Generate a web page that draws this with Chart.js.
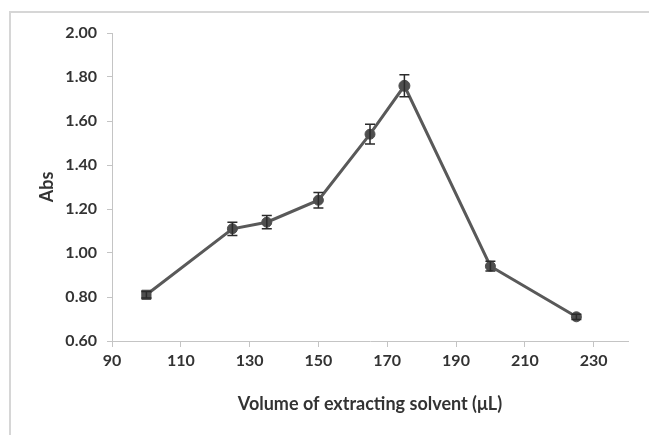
<!DOCTYPE html>
<html>
<head>
<meta charset="utf-8">
<script src="https://cdn.jsdelivr.net/npm/chart.js@4/dist/chart.umd.min.js"></script>
<style>
    html, body { margin: 0; padding: 0; background: #fff; }
    #wrap { position: relative; width: 649px; height: 435px; }
    #frame {
        position: absolute; left: 9px; top: 11px; right: -5px; bottom: -5px;
        border-top: 2px solid #d6d6d6; border-left: 2px solid #d6d6d6;
    }
    #myChart { position: absolute; left: 0; top: 0; }
</style>
</head>
<body>
<div id="wrap">
    <div id="frame"></div>
    <canvas id="myChart" width="649" height="435"></canvas>
</div>
<script>
// Data
const volumes = [100, 125, 135, 150, 165, 175, 200, 225];
const absValues = [0.81, 1.11, 1.14, 1.24, 1.54, 1.76, 0.94, 0.71];
const absErrors = [0.015, 0.03, 0.03, 0.035, 0.045, 0.05, 0.022, 0.012];
const markerStyles = ["rect", "circle", "circle", "circle", "circle", "circle", "circle", "circle"];
const markerSizes = [6.5, 5, 5, 5, 5, 5.5, 5, 5];

const xTicks = [90, 110, 130, 150, 170, 190, 210, 230];
const yTicks = [0.6, 0.8, 1.0, 1.2, 1.4, 1.6, 1.8, 2.0];

const tickFont = { family: "Lato", size: 16, weight: "bold" };
const titleFont = { family: "Lato", size: 18, weight: "bold" };
const textColor = "#333333";

// Draw error bars from the scales
const errorBars = {
    id: "errorBars",
    afterDatasetsDraw(chart) {
        const ctx = chart.ctx;
        const xs = chart.scales.x;
        const ys = chart.scales.y;
        ctx.save();
        ctx.strokeStyle = "#2b2b2b";
        ctx.lineWidth = 1.5;
        volumes.forEach((v, i) => {
            const x = xs.getPixelForValue(v);
            const top = ys.getPixelForValue(absValues[i] + absErrors[i]);
            const bot = ys.getPixelForValue(absValues[i] - absErrors[i]);
            ctx.beginPath();
            ctx.moveTo(x, top);
            ctx.lineTo(x, bot);
            ctx.moveTo(x - 5, top);
            ctx.lineTo(x + 5, top);
            ctx.moveTo(x - 5, bot);
            ctx.lineTo(x + 5, bot);
            ctx.stroke();
        });
        ctx.restore();
    }
};

const ctx = document.getElementById("myChart").getContext("2d");

const myChart = new Chart(ctx, {
    type: "line",
    data: {
        datasets: [
            {
                data: volumes.map((v, i) => ({ x: v, y: absValues[i] })),
                borderColor: "#595959",
                borderWidth: 3,
                backgroundColor: "#4f4f4f",
                pointBackgroundColor: "#4f4f4f",
                pointBorderColor: "#4f4f4f",
                pointStyle: markerStyles,
                pointRadius: markerSizes,
                pointBorderWidth: 1,
                tension: 0,
                fill: false
            }
        ]
    },
    options: {
        responsive: false,
        animation: false,
        events: [],
        layout: { padding: { top: 33, right: 21, left: 0, bottom: 0 } },
        plugins: {
            legend: { display: false },
            tooltip: { enabled: false }
        },
        scales: {
            x: {
                type: "linear",
                min: 90,
                max: 240,
                afterBuildTicks: scale => {
                    scale.ticks = xTicks.map(v => ({ value: v }));
                },
                afterFit: scale => { scale.height = 94; },
                border: { color: "#c4c4c4", width: 1 },
                grid: { drawOnChartArea: false, drawTicks: true, tickLength: 6, color: "#c4c4c4" },
                ticks: {
                    font: tickFont,
                    color: textColor,
                    padding: 4,
                    maxRotation: 0,
                    callback: v => String(v)
                },
                title: {
                    display: true,
                    text: "Volume of extracting solvent (\u03bcL)",
                    font: titleFont,
                    color: textColor,
                    padding: { top: 0, bottom: 20 }
                }
            },
            y: {
                type: "linear",
                min: 0.6,
                max: 2.0,
                afterBuildTicks: scale => {
                    scale.ticks = yTicks.map(v => ({ value: v }));
                },
                afterFit: scale => { scale.width = 112; },
                border: { color: "#c4c4c4", width: 1 },
                grid: { drawOnChartArea: false, drawTicks: true, tickLength: 5, color: "#c4c4c4" },
                ticks: {
                    font: tickFont,
                    color: textColor,
                    padding: 10,
                    callback: v => Number(v).toFixed(2)
                },
                title: {
                    display: true,
                    text: "Abs",
                    font: titleFont,
                    color: textColor,
                    padding: { top: 36, bottom: 0 }
                }
            }
        }
    },
    plugins: [errorBars]
});
</script>
</body>
</html>
